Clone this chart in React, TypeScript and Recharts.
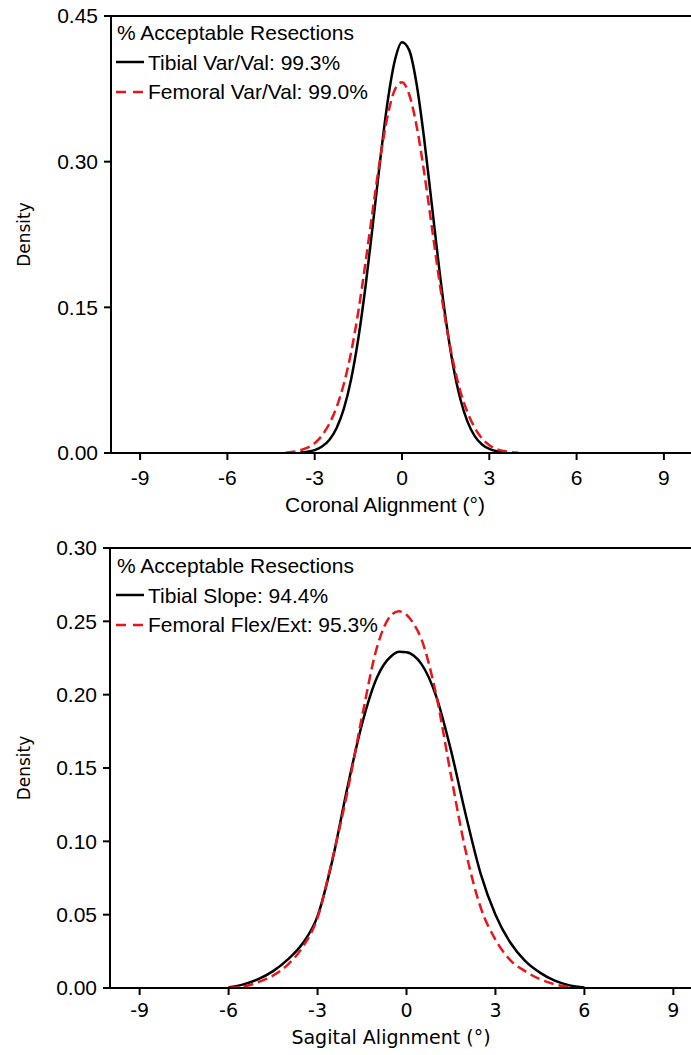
import React from 'react';
import { LineChart, Line, XAxis, YAxis, ReferenceLine, Label, Legend } from 'recharts';

// ---------- data ----------
const xTicks = [-9, -6, -3, 0, 3, 6, 9];
const coronalYTicks = [0, 0.15, 0.3, 0.45];
const sagittalYTicks = [0, 0.05, 0.1, 0.15, 0.2, 0.25, 0.3];
const coronalXDomain = [-10, 10];
const sagittalXDomain = [-10, 10];

const legendTitle = '% Acceptable Resections';
const coronalLabels = ['Tibial Var/Val: 99.3%', 'Femoral Var/Val: 99.0%'];
const sagittalLabels = ['Tibial Slope: 94.4%', 'Femoral Flex/Ext: 95.3%'];
const coronalAxisTitle = 'Coronal Alignment (°)';
const sagittalAxisTitle = 'Sagital Alignment (°)';
const densityTitle = 'Density';

const coronalX = [
  -4, -3.75, -3.5, -3.25, -3, -2.75, -2.5, -2.25, -2, -1.75, -1.5, -1.25, -1, -0.75, -0.5, -0.25,
  0, 0.25, 0.5, 0.75, 1, 1.25, 1.5, 1.75, 2, 2.25, 2.5, 2.75, 3, 3.25, 3.5, 3.75, 4,
];
const tibialVarVal = [
  null, null, 0.0005, 0.0013, 0.003, 0.0066, 0.0134, 0.0255, 0.0454, 0.0757, 0.1181, 0.1725, 0.2358, 0.3014, 0.3605, 0.4036,
  0.423, 0.4146, 0.3803, 0.3264, 0.2622, 0.1971, 0.1386, 0.0911, 0.0561, 0.0323, 0.0174, 0.0088, 0.0042, 0.0018, 0.0008, null, null,
];
const femoralVarVal = [
  0.0003, 0.0012, 0.0028, 0.0055, 0.01, 0.018, 0.03, 0.047, 0.071, 0.1034, 0.146, 0.197, 0.2513, 0.3033, 0.3463, 0.3738,
  0.3818, 0.3689, 0.3371, 0.2913, 0.2383, 0.1842, 0.1348, 0.0953, 0.064, 0.042, 0.026, 0.015, 0.008, 0.004, 0.002, 0.0008, 0.0002,
];

const sagittalX = [
  -6, -5.5, -5, -4.5, -4, -3.5, -3, -2.5, -2, -1.5, -1, -0.5, -0.25, 0, 0.25, 0.5,
  1, 1.5, 2, 2.5, 3, 3.5, 4, 4.5, 5, 5.5, 6,
];
const tibialSlope = [
  0.0005, 0.0025, 0.006, 0.0115, 0.0195, 0.0305, 0.049, 0.087, 0.136, 0.18, 0.2115, 0.2265, 0.2292, 0.229, 0.2265, 0.221,
  0.199, 0.162, 0.118, 0.078, 0.05, 0.031, 0.0185, 0.0105, 0.005, 0.0018, 0.0004,
];
const femoralFlexExt = [
  0.0002, 0.001, 0.004, 0.0085, 0.016, 0.028, 0.048, 0.088, 0.133, 0.185, 0.232, 0.2545, 0.2568, 0.2545, 0.248, 0.238,
  0.2, 0.145, 0.093, 0.055, 0.033, 0.019, 0.0115, 0.006, 0.0025, 0.0005, null,
];

const toPoints = (xs: number[], ys: (number | null)[]) =>
  xs.map((x, i) => ({ x, y: ys[i] })).filter((d) => d.y !== null);

// ---------- styles ----------
const BLACK = '#000000';
const RED = '#e8161b';
const ARIAL = 'Liberation Sans, Arial, sans-serif';
const TAHOMA = 'DejaVu Sans, Verdana, sans-serif';

const InsetLegend = ({ labels }: { labels: string[] }) => (
  <div
    style={{
      fontFamily: ARIAL,
      fontSize: 21,
      lineHeight: '29.5px',
      color: '#000',
      whiteSpace: 'nowrap',
      background: 'transparent',
    }}
  >
    <div style={{ paddingLeft: 1 }}>{legendTitle}</div>
    {labels.map((lab, i) => (
      <div key={lab} style={{ display: 'flex', alignItems: 'center' }}>
        <svg width={28} height={10} style={{ display: 'block', marginRight: 4 }}>
          <line
            x1={0}
            y1={5}
            x2={28}
            y2={5}
            stroke={i === 0 ? BLACK : RED}
            strokeWidth={2.5}
            strokeDasharray={i === 0 ? undefined : '10 7'}
          />
        </svg>
        <span>{lab}</span>
      </div>
    ))}
  </div>
);

const makeXTitle = (text: string, cx: number, dy: number, font: string, size: number) => (props: any) => {
  const vb = props.viewBox || {};
  return (
    <text x={cx} y={vb.y + dy} textAnchor="middle" fontFamily={font} fontSize={size} fill="#000">
      {text}
    </text>
  );
};

const makeYTitle = (text: string) => (props: any) => {
  const vb = props.viewBox || {};
  const cx = 24;
  const cy = vb.y + vb.height / 2;
  return (
    <text
      x={cx}
      y={cy}
      dy="0.36em"
      textAnchor="middle"
      fontFamily={TAHOMA}
      fontSize={17}
      fill="#000"
      transform={`rotate(-90, ${cx}, ${cy})`}
    >
      {text}
    </text>
  );
};

const axisLine = { stroke: BLACK, strokeWidth: 2 };

export default function App() {
  const tibC = toPoints(coronalX, tibialVarVal);
  const femC = toPoints(coronalX, femoralVarVal);
  const tibS = toPoints(sagittalX, tibialSlope);
  const femS = toPoints(sagittalX, femoralFlexExt);

  return (
    <div
      style={{
        position: 'absolute',
        left: 0,
        top: 0,
        width: 691,
        height: 1055,
        overflow: 'hidden',
        background: '#fff',
      }}
    >
      <div style={{ position: 'absolute', left: 0, top: 0, width: 691, height: 530, overflow: 'hidden' }}>
        <LineChart width={693} height={530} margin={{ top: 16, right: 0, bottom: 7, left: 0 }}>
          <XAxis
            type="number"
            dataKey="x"
            domain={coronalXDomain}
            ticks={xTicks}
            allowDataOverflow
            height={70}
            axisLine={axisLine}
            tickLine={axisLine}
            tickSize={7}
            tickMargin={10}
            tick={{ fill: '#000', fontSize: 21, fontFamily: ARIAL }}
          >
            <Label content={makeXTitle(coronalAxisTitle, 385, 59, ARIAL, 21)} />
          </XAxis>
          <YAxis
            type="number"
            domain={[0, 0.45]}
            ticks={coronalYTicks}
            interval={0}
            allowDataOverflow
            width={111}
            axisLine={axisLine}
            tickLine={axisLine}
            tickSize={7}
            tickMargin={6}
            tickFormatter={(v: number) => v.toFixed(2)}
            tick={{ fill: '#000', fontSize: 21, fontFamily: ARIAL }}
          >
            <Label content={makeYTitle(densityTitle)} />
          </YAxis>
          <ReferenceLine y={0.45} stroke={BLACK} strokeWidth={2} />
          <Legend
            layout="vertical"
            align="center"
            verticalAlign="middle"
            wrapperStyle={{ left: 116, top: 18, width: 'auto', height: 'auto' }}
            content={() => <InsetLegend labels={coronalLabels} />}
          />
          <Line
            data={tibC}
            dataKey="y"
            type="monotone"
            stroke={BLACK}
            strokeWidth={2.5}
            dot={false}
            activeDot={false}
            isAnimationActive={false}
            name={coronalLabels[0]}
          />
          <Line
            data={femC}
            dataKey="y"
            type="monotone"
            stroke={RED}
            strokeWidth={2.5}
            strokeDasharray="10 5"
            dot={false}
            activeDot={false}
            isAnimationActive={false}
            name={coronalLabels[1]}
          />
        </LineChart>
      </div>

      <div style={{ position: 'absolute', left: 0, top: 530, width: 691, height: 525, overflow: 'hidden' }}>
        <LineChart width={703} height={525} margin={{ top: 18, right: 0, bottom: 7, left: 0 }}>
          <XAxis
            type="number"
            dataKey="x"
            domain={sagittalXDomain}
            ticks={xTicks}
            allowDataOverflow
            height={60}
            axisLine={axisLine}
            tickLine={axisLine}
            tickSize={7}
            tickMargin={9}
            tick={{ fill: '#000', fontSize: 19, fontFamily: TAHOMA }}
          >
            <Label content={makeXTitle(sagittalAxisTitle, 391, 56, TAHOMA, 19)} />
          </XAxis>
          <YAxis
            type="number"
            domain={[0, 0.3]}
            ticks={sagittalYTicks}
            interval={0}
            allowDataOverflow
            width={110}
            axisLine={axisLine}
            tickLine={axisLine}
            tickSize={7}
            tickMargin={6}
            tickFormatter={(v: number) => v.toFixed(2)}
            tick={{ fill: '#000', fontSize: 21, fontFamily: ARIAL }}
          >
            <Label content={makeYTitle(densityTitle)} />
          </YAxis>
          <ReferenceLine y={0.3} stroke={BLACK} strokeWidth={2} />
          <Legend
            layout="vertical"
            align="center"
            verticalAlign="middle"
            wrapperStyle={{ left: 116, top: 21, width: 'auto', height: 'auto' }}
            content={() => <InsetLegend labels={sagittalLabels} />}
          />
          <Line
            data={tibS}
            dataKey="y"
            type="monotone"
            stroke={BLACK}
            strokeWidth={2.5}
            dot={false}
            activeDot={false}
            isAnimationActive={false}
            name={sagittalLabels[0]}
          />
          <Line
            data={femS}
            dataKey="y"
            type="monotone"
            stroke={RED}
            strokeWidth={2.5}
            strokeDasharray="10 5"
            dot={false}
            activeDot={false}
            isAnimationActive={false}
            name={sagittalLabels[1]}
          />
        </LineChart>
      </div>
    </div>
  );
}
